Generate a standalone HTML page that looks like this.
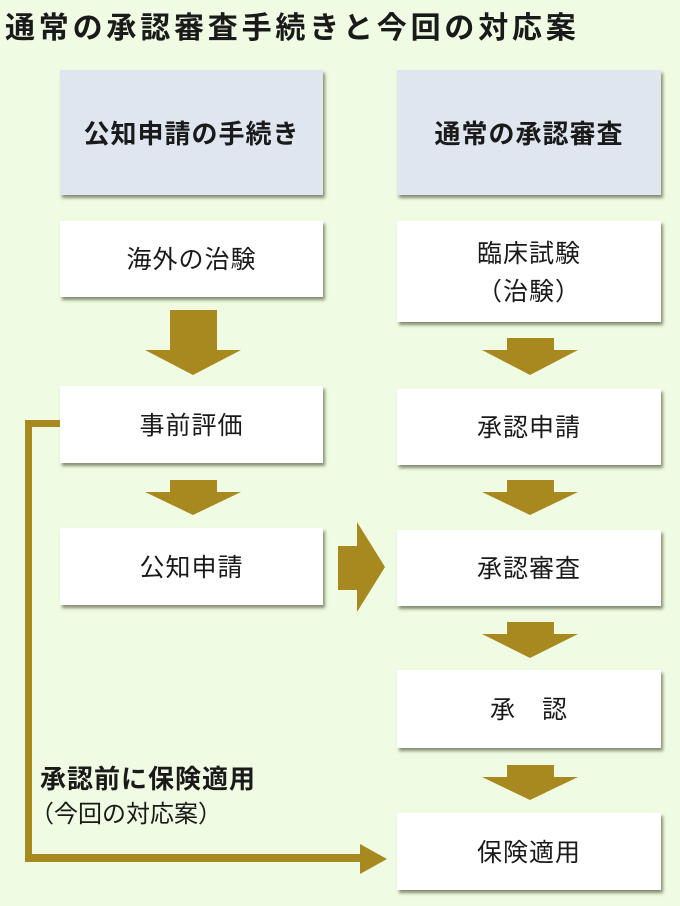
<!DOCTYPE html>
<html><head><meta charset="utf-8"><style>
body{margin:0;width:680px;height:906px;background:#effbe2;position:relative;overflow:hidden;font-family:"Liberation Sans","Noto Sans CJK JP",sans-serif;color:#1a1a1a}
.t{position:absolute;left:5px;top:3px;font-size:30px;font-weight:bold;letter-spacing:3.8px;white-space:nowrap}
.b{position:absolute;background:#fff;box-shadow:2px 3px 3px rgba(60,70,40,0.6);display:flex;align-items:center;justify-content:center;text-align:center;font-size:25px;line-height:1.5;letter-spacing:1px;padding-top:4px;box-sizing:border-box}
.h{background:#dfe6ef;font-weight:bold;font-size:26px}
.L{left:60px;width:263px}.R{left:397px;width:264px}
svg{position:absolute;left:0;top:0}
.lab{position:absolute;left:40px;white-space:nowrap}
</style></head><body>
<div class="t">通常の承認審査手続きと今回の対応案</div>
<div class="b h L" style="top:70px;height:125px">公知申請の手続き</div>
<div class="b h R" style="top:70px;height:125px">通常の承認審査</div>
<div class="b L" style="top:221px;height:76px">海外の治験</div>
<div class="b L" style="top:386px;height:77px">事前評価</div>
<div class="b L" style="top:528px;height:77px">公知申請</div>
<div class="b R" style="top:221px;height:101px">臨床試験<br>（治験）</div>
<div class="b R" style="top:389px;height:76px">承認申請</div>
<div class="b R" style="top:530px;height:76px">承認審査</div>
<div class="b R" style="top:670px;height:78px">承　認</div>
<div class="b R" style="top:813px;height:77px">保険適用</div>
<svg width="680" height="906">
<g fill="#a8891f">
<polygon points="170,310 217,310 217,350 241,350 193,375 145,350 170,350"/>
<polygon points="170,480 217,480 217,492 241,492 193,515 145,492 170,492"/>
<polygon points="507,338 554,338 554,350 578,350 530,375 482,350 507,350"/>
<polygon points="507,480 554,480 554,492 578,492 530,515 482,492 507,492"/>
<polygon points="507,622 554,622 554,634 578,634 530,658 482,634 507,634"/>
<polygon points="507,765 554,765 554,777 578,777 530,800 482,777 507,777"/>
<polygon points="338,546 357,546 357,522 385,567 357,612 357,590 338,590"/>
<polygon points="25,420 60,420 60,427 32,427 32,854 360,854 360,844 387,859 360,874 360,862 25,862"/>
</g></svg>
<div class="lab" style="top:759px;font-weight:bold;font-size:26px;letter-spacing:1px">承認前に保険適用</div>
<div class="lab" style="top:794px;left:30px;font-size:24px">（今回の対応案）</div>
</body></html>
